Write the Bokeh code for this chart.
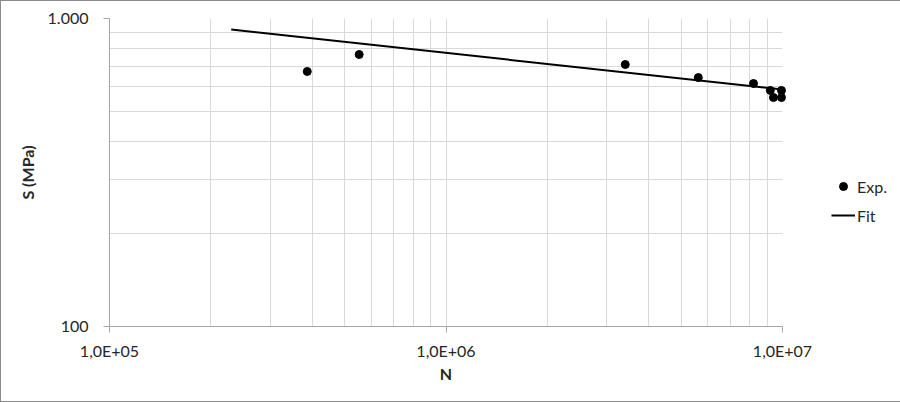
from bokeh.plotting import figure
from bokeh.models import FixedTicker, Legend, LegendItem, Range1d
from bokeh.embed import file_html
from bokeh.resources import INLINE

# ---- data ----
exp_N = [3.87e5, 5.52e5, 3.41e6, 5.62e6, 8.20e6, 9.2e6, 9.93e6, 9.4e6, 9.93e6]
exp_S = [673, 764, 709, 643, 615, 584, 584, 554, 554]
fit_N = [2.3e5, 1.0e7]
fit_S = [921, 588]

x_ticks = [1e5, 1e6, 1e7]
x_labels = ["1,0E+05", "1,0E+06", "1,0E+07"]
x_minor = [2e5, 3e5, 4e5, 5e5, 6e5, 7e5, 8e5, 9e5,
           2e6, 3e6, 4e6, 5e6, 6e6, 7e6, 8e6, 9e6]
y_ticks = [100, 1000]
y_labels = ["100", "1.000"]
y_minor = [200, 300, 400, 500, 600, 700, 800, 900]

FONT = "Lato"
GRID = "#d9d9d9"
AXIS = "#a6a6a6"
TXT = "#262626"

p = figure(frame_width=673, frame_height=308, x_axis_type="log", y_axis_type="log",
           x_range=Range1d(1e5, 1e7), y_range=Range1d(100, 1000),
           output_backend="svg", toolbar_location=None,
           min_border_left=108, min_border_right=0,
           min_border_top=17, min_border_bottom=75)
p.styles = {"border": "1px solid #8c8c8c"}
p.outline_line_color = None
p.background_fill_color = "white"
p.border_fill_color = "white"

p.xaxis.ticker = FixedTicker(ticks=x_ticks, minor_ticks=x_minor)
p.yaxis.ticker = FixedTicker(ticks=y_ticks, minor_ticks=y_minor)
p.xaxis.major_label_overrides = dict(zip(x_ticks, x_labels))
p.yaxis.major_label_overrides = dict(zip(y_ticks, y_labels))

for ax in (p.xaxis, p.yaxis):
    ax.axis_line_color = AXIS
    ax.major_tick_line_color = AXIS
    ax.major_tick_in = 0
    ax.major_tick_out = 6
    ax.minor_tick_line_color = None
    ax.major_label_text_font = FONT
    ax.major_label_text_font_size = "16px"
    ax.major_label_text_color = TXT
    ax.axis_label_text_font = FONT
    ax.axis_label_text_font_size = "16px"
    ax.axis_label_text_font_style = "bold"
    ax.axis_label_text_color = TXT

p.xaxis.axis_label = "N"
p.yaxis.axis_label = "S (MPa)"
p.xaxis.major_label_standoff = 8
p.yaxis.major_label_standoff = 15
p.xaxis.axis_label_standoff = 1
p.yaxis.axis_label_standoff = 8

for g in (p.xgrid, p.ygrid):
    g.grid_line_color = GRID
    g.minor_grid_line_color = GRID

r_fit = p.line(fit_N, fit_S, line_width=2, color="black", level="overlay")
r_exp = p.scatter(exp_N, exp_S, size=8, color="black", level="overlay")

legend = Legend(items=[LegendItem(label="Exp.", renderers=[r_exp]),
                       LegendItem(label="Fit", renderers=[r_fit])],
                location=(49, 101), padding=0, margin=0, spacing=9,
                glyph_width=24, glyph_height=20, label_standoff=2,
                label_text_font=FONT, label_text_font_size="16px",
                label_text_color=TXT, border_line_color=None,
                background_fill_alpha=0)
p.add_layout(legend, "right")

open("out.html", "w").write(file_html(p, INLINE))
